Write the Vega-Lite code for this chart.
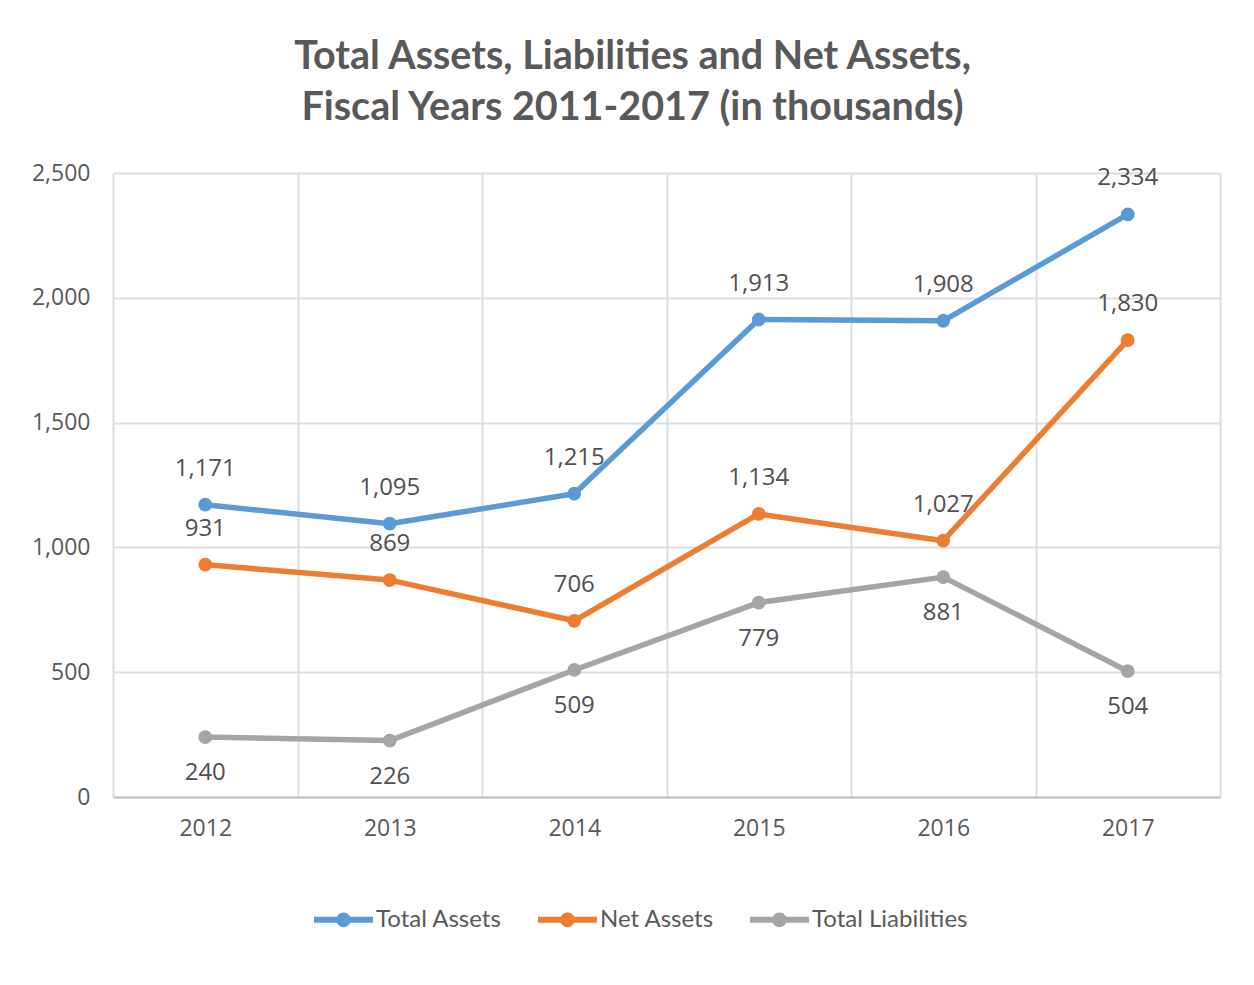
{
  "$schema": "https://vega.github.io/schema/vega-lite/v6.json",
  "width": 1107,
  "height": 624,
  "autosize": {"type": "none"},
  "padding": {"left": 113, "top": 173, "right": 34, "bottom": 188},
  "background": "white",
  "title": {
    "text": ["Total Assets, Liabilities and Net Assets,", "Fiscal Years 2011-2017 (in thousands)"],
    "font": "Lato",
    "fontSize": 39.5,
    "fontWeight": "bold",
    "color": "#595959",
    "lineHeight": 51,
    "anchor": "middle",
    "frame": "group",
    "dx": -34,
    "offset": 34
  },
  "data": {
    "values": [
      {"year": "2012", "series": "Total Assets", "value": 1171},
      {"year": "2013", "series": "Total Assets", "value": 1095},
      {"year": "2014", "series": "Total Assets", "value": 1215},
      {"year": "2015", "series": "Total Assets", "value": 1913},
      {"year": "2016", "series": "Total Assets", "value": 1908},
      {"year": "2017", "series": "Total Assets", "value": 2334},
      {"year": "2012", "series": "Net Assets", "value": 931},
      {"year": "2013", "series": "Net Assets", "value": 869},
      {"year": "2014", "series": "Net Assets", "value": 706},
      {"year": "2015", "series": "Net Assets", "value": 1134},
      {"year": "2016", "series": "Net Assets", "value": 1027},
      {"year": "2017", "series": "Net Assets", "value": 1830},
      {"year": "2012", "series": "Total Liabilities", "value": 240},
      {"year": "2013", "series": "Total Liabilities", "value": 226},
      {"year": "2014", "series": "Total Liabilities", "value": 509},
      {"year": "2015", "series": "Total Liabilities", "value": 779},
      {"year": "2016", "series": "Total Liabilities", "value": 881},
      {"year": "2017", "series": "Total Liabilities", "value": 504}
    ]
  },
  "encoding": {
    "x": {
      "field": "year",
      "type": "ordinal",
      "bandPosition": 0.5,
      "scale": {"type": "band", "paddingInner": 0, "paddingOuter": 0},
      "axis": {
        "title": null,
        "labelAngle": 0,
        "labelFont": "Open Sans",
        "labelFontSize": 23,
        "labelColor": "#595959",
        "labelPadding": 20,
        "ticks": false,
        "domainColor": "#bfbfbf",
        "domainWidth": 2,
        "grid": true,
        "tickBand": "extent",
        "gridColor": "#dedede",
        "gridWidth": 2
      }
    },
    "y": {
      "field": "value",
      "type": "quantitative",
      "scale": {"domain": [0, 2500], "nice": false},
      "axis": {
        "title": null,
        "values": [0, 500, 1000, 1500, 2000, 2500],
        "format": ",.0f",
        "labelFont": "Open Sans",
        "labelFontSize": 23,
        "labelColor": "#595959",
        "labelPadding": 23,
        "domain": false,
        "ticks": false,
        "gridColor": "#dedede",
        "gridWidth": 2
      }
    }
  },
  "layer": [
    {
      "mark": {"type": "line", "strokeWidth": 5.5, "strokeCap": "round", "strokeJoin": "round"},
      "encoding": {
        "color": {
          "field": "series",
          "type": "nominal",
          "scale": {
            "domain": ["Total Assets", "Net Assets", "Total Liabilities"],
            "range": ["#5b9bd5", "#ed7d31", "#a5a5a5"]
          },
          "legend": {
            "title": null,
            "orient": "none",
            "legendX": 201,
            "legendY": 717,
            "direction": "horizontal",
            "labelFont": "Lato",
            "labelFontSize": 24,
            "labelLimit": 400,
            "labelColor": "#595959",
            "labelOffset": 3,
            "columnPadding": 36,
            "symbolType": "M-1,-0.1 L1,-0.1 L1,0.1 L-1,0.1 Z M0.25,0 A0.25,0.25 0 1,1 -0.25,0 A0.25,0.25 0 1,1 0.25,0 Z",
            "symbolSize": 3481,
            "symbolStrokeWidth": 0,
            "encode": {
              "symbols": {
                "update": {
                  "fill": {"scale": "color", "field": "value"},
                  "opacity": {"value": 1}
                }
              }
            }
          }
        }
      }
    },
    {
      "mark": {"type": "point", "filled": true, "size": 190, "opacity": 1},
      "encoding": {
        "color": {"field": "series", "type": "nominal"}
      }
    },
    {
      "transform": [{"filter": "datum.series !== 'Total Liabilities'"}],
      "mark": {"type": "text", "font": "Open Sans", "fontSize": 24, "color": "#505050", "baseline": "middle", "dy": -36},
      "encoding": {
        "text": {"field": "value", "type": "quantitative", "format": ","}
      }
    },
    {
      "transform": [{"filter": "datum.series === 'Total Liabilities'"}],
      "mark": {"type": "text", "font": "Open Sans", "fontSize": 24, "color": "#505050", "baseline": "middle", "dy": 36},
      "encoding": {
        "text": {"field": "value", "type": "quantitative", "format": ","}
      }
    }
  ],
  "config": {
    "view": {"stroke": null}
  }
}
